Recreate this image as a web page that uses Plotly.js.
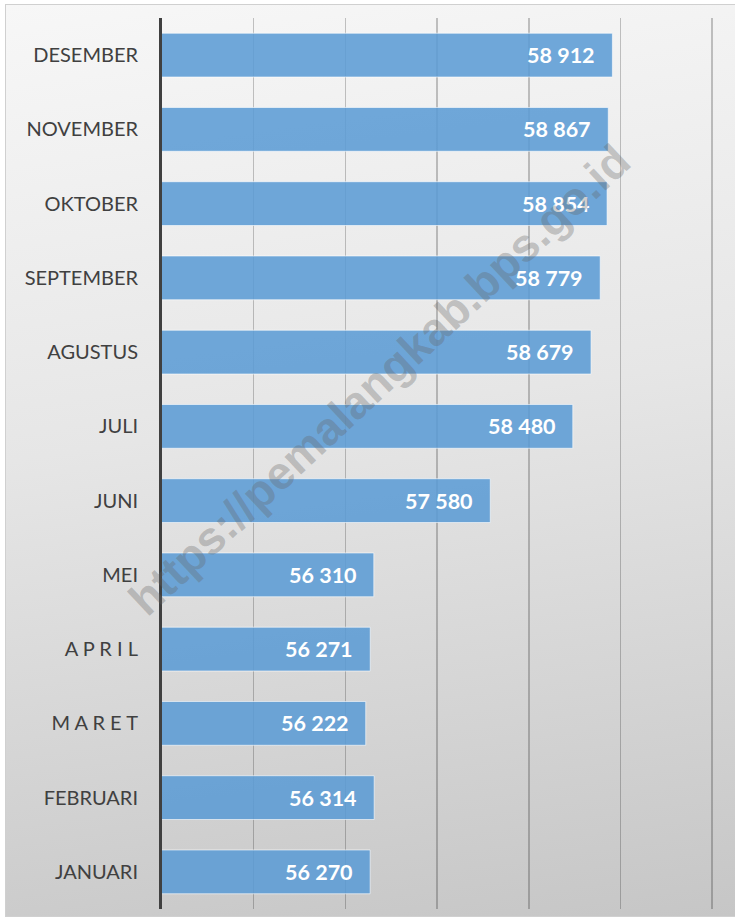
<!DOCTYPE html>
<html>
<head>
<meta charset="utf-8">
<script src="https://cdn.plot.ly/plotly-3.0.1.min.js"></script>
<style>
  html, body { margin: 0; padding: 0; background: #ffffff; }
  #bg { position: absolute; left: 5px; top: 4px; width: 729px; height: 911px;
        border: 1px solid #d0d0d0;
        background: linear-gradient(172deg, #f7f7f7 0%, #e6e6e6 45%, #c6c6c6 100%); }
  #chart { position: absolute; left: 0; top: 0; width: 735px; height: 919px; }
</style>
</head>
<body>
<div id="bg"></div>
<div id="chart"></div>
<script>
// Categories (bottom to top) and values
const months = ["JANUARI", "FEBRUARI", "M A R E T", "A P R I L", "MEI", "JUNI",
                "JULI", "AGUSTUS", "SEPTEMBER", "OKTOBER", "NOVEMBER", "DESEMBER"];
const values = [56270, 56314, 56222, 56271, 56310, 57580,
                58480, 58679, 58779, 58854, 58867, 58912];
const gridTicks = [55000, 56000, 57000, 58000, 59000, 60000];
const watermark = "https://pemalangkab.bps.go.id";

const fmt = v => String(v).replace(/\B(?=(\d{3})+(?!\d))/g, " ");

const trace = {
  type: "bar",
  orientation: "h",
  y: months,
  x: values,
  base: 0,
  marker: { color: "rgba(91,155,213,0.875)", line: { color: "rgba(255,255,255,0.6)", width: 1 } },
  width: 0.59,
  hoverinfo: "skip"
};

const annotations = months.map((m, i) => ({
  x: values[i], y: m, xref: "x", yref: "y",
  text: fmt(values[i]), showarrow: false,
  xanchor: "right", xshift: -15,
  font: { family: "Lato, 'Open Sans', sans-serif", size: 21.5, color: "#ffffff", weight: "bold" }
}));

annotations.push({
  x: 0.393, y: 0.594, xref: "paper", yref: "paper",
  text: "<b>" + watermark + "</b>", showarrow: false, textangle: -43,
  font: { family: "'Liberation Sans', Arial, sans-serif", size: 46, color: "rgba(100,100,100,0.32)" }
});

const layout = {
  width: 735, height: 919,
  margin: { l: 162, r: 21, t: 18, b: 10, pad: 0 },
  paper_bgcolor: "rgba(0,0,0,0)",
  plot_bgcolor: "rgba(0,0,0,0)",
  showlegend: false,
  xaxis: {
    range: [54000, 60020],
    tickmode: "array", tickvals: gridTicks,
    showticklabels: false, ticks: "",
    showgrid: true, gridcolor: "rgba(0,0,0,0.22)", gridwidth: 1.5,
    zeroline: false, showline: false, fixedrange: true
  },
  yaxis: {
    type: "category",
    categoryorder: "array", categoryarray: months,
    showgrid: false, zeroline: false,
    showline: true, linecolor: "#404040", linewidth: 3,
    ticks: "", ticklabelstandoff: 17,
    tickfont: { family: "Lato, 'Open Sans', sans-serif", size: 20, color: "#404040" },
    fixedrange: true
  },
  annotations: annotations
};

Plotly.newPlot("chart", [trace], layout, { displayModeBar: false, staticPlot: true });
</script>
</body>
</html>
